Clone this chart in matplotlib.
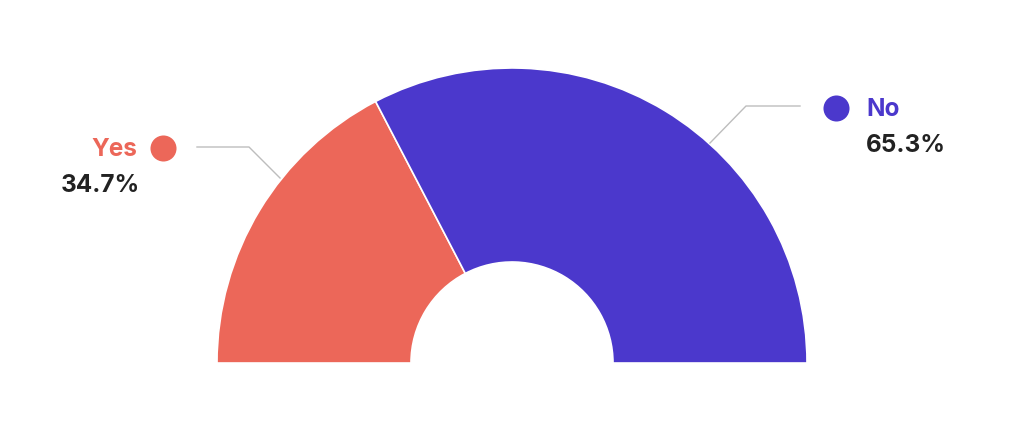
import numpy as np
import matplotlib
matplotlib.use("Agg")
import matplotlib.pyplot as plt

categories = ["Yes", "No"]
values = [34.7, 65.3]
colors = ["#EC6759", "#4B38CC"]
pct_labels = ["34.7%", "65.3%"]

W, H = 1028, 426
CX, CY, R, RIN = 512, 363, 295, 101

fig = plt.figure(figsize=(W / 100, H / 100), dpi=100)
fig.patch.set_facecolor("white")
ax = fig.add_axes([0, 0, 1, 1])

def P(px, py):
    return ((px - CX) / R, (CY - py) / R)

# half donut: hidden lower half
total = sum(values)
wedges, _ = ax.pie(values + [total], colors=colors + ["none"], startangle=180,
                   counterclock=False, radius=1.0,
                   wedgeprops=dict(width=(R - RIN) / R, edgecolor="white", linewidth=1.2))
wedges[-1].set_edgecolor("none")

ax.set_xlim(-CX / R, (W - CX) / R)
ax.set_ylim(-(H - CY) / R, CY / R)
ax.set_aspect("auto")
ax.axis("off")

font = "Inter"
lc = "#BDBDBD"
fs = 17.5

# Yes label
yes_pts = [P(197, 147), P(249, 147), P(280, 178)]
ax.plot([p[0] for p in yes_pts], [p[1] for p in yes_pts], color=lc, lw=1.0)
ax.scatter(*P(163, 148), s=26 ** 2 * 0.52, color=colors[0], zorder=5, linewidths=0)
ax.text(*P(137, 149), categories[0], color=colors[0], fontsize=fs, fontweight="bold",
        family=font, ha="right", va="center")
ax.text(*P(61, 185), pct_labels[0], color="#222222", fontsize=fs, fontweight="bold",
        family=font, ha="left", va="center")

# No label
no_pts = [P(800, 106), P(746, 106), P(710, 143)]
ax.plot([p[0] for p in no_pts], [p[1] for p in no_pts], color=lc, lw=1.0)
ax.scatter(*P(836, 108), s=26 ** 2 * 0.52, color=colors[1], zorder=5, linewidths=0)
ax.text(*P(866, 109), categories[1], color=colors[1], fontsize=fs, fontweight="bold",
        family=font, ha="left", va="center")
ax.text(*P(866, 145), pct_labels[1], color="#222222", fontsize=fs, fontweight="bold",
        family=font, ha="left", va="center")

fig.savefig("out.png", dpi=100, facecolor="white")
